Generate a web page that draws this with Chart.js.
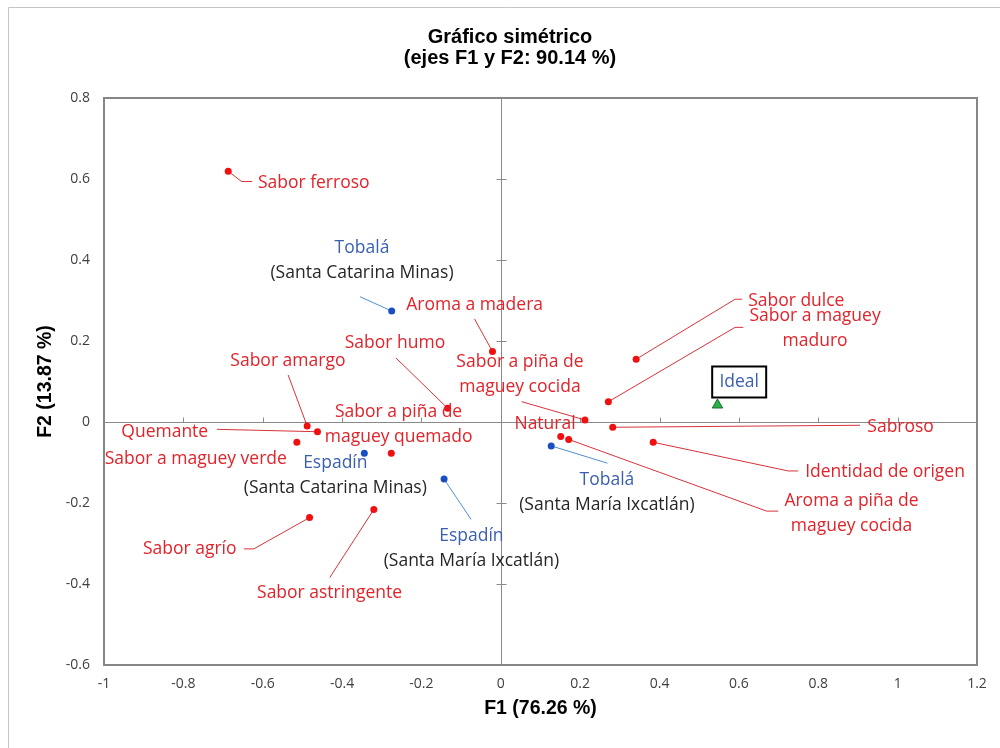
<!DOCTYPE html>
<html lang="es">
<head>
<meta charset="utf-8">
<title>Gráfico simétrico</title>
<script src="https://cdn.jsdelivr.net/npm/chart.js@4.4.1/dist/chart.umd.min.js"></script>
<style>
  html, body { margin: 0; padding: 0; background: #ffffff; }
  canvas { display: block; }
</style>
</head>
<body>
<canvas id="chart" width="1000" height="748"></canvas>
<script>
// Sensory attributes (F1, F2 coordinates)
const attrNames = [
  'Sabor ferroso',
  'Aroma a madera',
  'Sabor humo',
  'Sabor amargo',
  'Quemante',
  'Sabor a maguey verde',
  'Sabor a piña de\nmaguey quemado',
  'Sabor agrío',
  'Sabor astringente',
  'Sabor dulce',
  'Sabor a maguey\nmaduro',
  'Sabor a piña de\nmaguey cocida',
  'Natural',
  'Sabroso',
  'Identidad de origen',
  'Aroma a piña de\nmaguey cocida'
];
const attrF1 = [-0.687, -0.021, -0.134, -0.488, -0.462, -0.514, -0.276, -0.482, -0.320,
                 0.341,  0.271,  0.212,  0.151,  0.282,  0.384,  0.171];
const attrF2 = [ 0.619,  0.174,  0.034, -0.010, -0.024, -0.050, -0.077, -0.236, -0.216,
                 0.155,  0.050,  0.005, -0.036, -0.013, -0.050, -0.043];

// Mezcal samples
const mezcalNames = ['Tobalá', 'Espadín', 'Espadín', 'Tobalá'];
const mezcalOrigins = ['(Santa Catarina Minas)', '(Santa Catarina Minas)',
                       '(Santa María Ixcatlán)', '(Santa María Ixcatlán)'];
const mezcalF1 = [-0.275, -0.344, -0.143, 0.127];
const mezcalF2 = [ 0.274, -0.077, -0.141, -0.059];

// Ideal product
const idealName = 'Ideal';
const idealF1 = [0.546];
const idealF2 = [0.042];

// Axis ticks
const xTickValues = [-1, -0.8, -0.6, -0.4, -0.2, 0, 0.2, 0.4, 0.6, 0.8, 1, 1.2];
const xTickLabels = ['-1', '-0.8', '-0.6', '-0.4', '-0.2', '0', '0.2', '0.4', '0.6', '0.8', '1', '1.2'];
const yTickValues = [-0.6, -0.4, -0.2, 0, 0.2, 0.4, 0.6, 0.8];
const yTickLabels = ['-0.6', '-0.4', '-0.2', '0', '0.2', '0.4', '0.6', '0.8'];

const chartTitle = ['Gráfico simétrico', '(ejes F1 y F2: 90.14 %)'];
const xTitle = 'F1 (76.26 %)';
const yTitle = 'F2 (13.87 %)';

// Label placement: pixel offsets from each point, plus leader-line waypoints
const attrLabelLayout = [
  { dx: 29.7,  dy: 11.5,  align: 'left',   leader: [[13.4, 10.2], [24, 10.2]] },
  { dx: -86.3, dy: -46.7, align: 'left',   leader: [[-18, -32.7]] },
  { dx: -52.7, dy: -65.6, align: 'center', leader: [[-51.7, -50.3]] },
  { dx: -19.3, dy: -65,   align: 'center', leader: [[-19, -51]] },
  { dx: -109.3, dy: 0,    align: 'right',  leader: [[-100.6, -2.4]] },
  { dx: -10,   dy: 16.7,  align: 'right' },
  { dx: 7.3,   dy: -41,   align: 'center' },
  { dx: -73,   dy: 31.3,  align: 'right',  leader: [[-55.7, 31.3], [-65.7, 31.3]] },
  { dx: -44.3, dy: 83.4,  align: 'center', leader: [[-44, 68]] },
  { dx: 112,   dy: -58.6, align: 'left',   leader: [[99, -60], [106, -60]] },
  { dx: 206.7, dy: -85.7, align: 'center', leader: [[126.7, -74.4], [135, -74.4]] },
  { dx: -65,   dy: -58.3, align: 'center', leader: [[-63.3, -18.3]] },
  { dx: -15.7, dy: -12.4, align: 'center' },
  { dx: 254.6, dy: -0.6,  align: 'left',   leader: [[247.3, -2]] },
  { dx: 152,   dy: 29.4,  align: 'left',   leader: [[135, 28.7], [145, 28.7]] },
  { dx: 282.8, dy: 61.4,  align: 'center', leader: [[198, 71.7], [209.6, 71.7]] }
];
const mezcalLabelLayout = [
  { dx: -29.7, dy: -63, leader: [[-31.7, -14.3]] },
  { dx: -29,   dy: 9.4 },
  { dx: 27.3,  dy: 57,  leader: [[27, 40.3]] },
  { dx: 55.7,  dy: 34,  leader: [[56.3, 17.3]] }
];
const idealLabelLayout = { dx: 21.7, dy: -23, boxW: 54, boxH: 31 };

const LABEL_FONT = '17.5px "Open Sans"';
const LINE_GAP = 25;
const RED_TEXT = '#e2232a';
const RED_LINE = '#d8323a';
const BLUE_TEXT = '#3a5fb0';
const BLUE_LINE = '#4f8fd0';
const DARK_TEXT = '#262626';
const AXIS_GRAY = '#8a8a8a';

function drawPolyline(ctx, x0, y0, pts, color) {
  ctx.beginPath();
  ctx.moveTo(x0, y0);
  pts.forEach(p => ctx.lineTo(x0 + p[0], y0 + p[1]));
  ctx.strokeStyle = color;
  ctx.lineWidth = 1;
  ctx.stroke();
}

// Frame, plot box, centred axes with tick marks, labels and title
const framePlugin = {
  id: 'frameAndAxes',
  beforeDraw(chart) {
    const ctx = chart.ctx;
    ctx.save();
    ctx.strokeStyle = '#c4c4c4';
    ctx.lineWidth = 1;
    ctx.beginPath();
    ctx.moveTo(8.5, chart.height + 2);
    ctx.lineTo(8.5, 7.5);
    ctx.lineTo(chart.width + 2, 7.5);
    ctx.stroke();
    ctx.restore();
  },
  beforeDatasetsDraw(chart) {
    const { ctx, chartArea: a, scales: { x, y } } = chart;
    ctx.save();
    const x0 = Math.round(x.getPixelForValue(0)) + 0.5;
    const y0 = Math.round(y.getPixelForValue(0)) + 0.5;
    ctx.strokeStyle = AXIS_GRAY;
    ctx.lineWidth = 1;
    ctx.beginPath();
    ctx.moveTo(x0, a.top); ctx.lineTo(x0, a.bottom);
    ctx.moveTo(a.left, y0); ctx.lineTo(a.right, y0);
    xTickValues.forEach(v => {
      if (v === xTickValues[0] || v === xTickValues[xTickValues.length - 1] || v === 0) return;
      const px = Math.round(x.getPixelForValue(v)) + 0.5;
      ctx.moveTo(px, y0); ctx.lineTo(px, y0 - 5);
    });
    yTickValues.forEach(v => {
      if (v === yTickValues[0] || v === yTickValues[yTickValues.length - 1] || v === 0) return;
      const py = Math.round(y.getPixelForValue(v)) + 0.5;
      ctx.moveTo(x0 - 5, py); ctx.lineTo(x0 + 5, py);
    });
    ctx.stroke();
    ctx.strokeStyle = '#878787';
    ctx.lineWidth = 2;
    ctx.strokeRect(a.left, a.top, a.right - a.left, a.bottom - a.top);
    ctx.restore();

    // leader lines
    ctx.save();
    chart.getDatasetMeta(0).data.forEach((pt, i) => {
      const L = attrLabelLayout[i];
      if (L.leader) drawPolyline(ctx, pt.x, pt.y, L.leader, RED_LINE);
    });
    chart.getDatasetMeta(1).data.forEach((pt, i) => {
      const L = mezcalLabelLayout[i];
      if (L.leader) drawPolyline(ctx, pt.x, pt.y, L.leader, BLUE_LINE);
    });
    ctx.restore();
  },
  afterDatasetsDraw(chart) {
    const ctx = chart.ctx;
    ctx.save();
    ctx.font = LABEL_FONT;
    ctx.textBaseline = 'middle';
    chart.getDatasetMeta(0).data.forEach((pt, i) => {
      const L = attrLabelLayout[i];
      ctx.fillStyle = RED_TEXT;
      ctx.textAlign = L.align;
      attrNames[i].split('\n').forEach((line, k) => {
        ctx.fillText(line, pt.x + L.dx, pt.y + L.dy + k * LINE_GAP);
      });
    });
    ctx.textAlign = 'center';
    chart.getDatasetMeta(1).data.forEach((pt, i) => {
      const L = mezcalLabelLayout[i];
      ctx.fillStyle = BLUE_TEXT;
      ctx.fillText(mezcalNames[i], pt.x + L.dx, pt.y + L.dy);
      ctx.fillStyle = DARK_TEXT;
      ctx.fillText(mezcalOrigins[i], pt.x + L.dx, pt.y + L.dy + LINE_GAP);
    });
    const ip = chart.getDatasetMeta(2).data[0];
    const I = idealLabelLayout;
    const cx = ip.x + I.dx, cy = ip.y + I.dy;
    ctx.fillStyle = '#ffffff';
    ctx.fillRect(cx - I.boxW / 2, cy - I.boxH / 2, I.boxW, I.boxH);
    ctx.strokeStyle = '#000000';
    ctx.lineWidth = 2;
    ctx.strokeRect(cx - I.boxW / 2, cy - I.boxH / 2, I.boxW, I.boxH);
    ctx.fillStyle = BLUE_TEXT;
    ctx.fillText(idealName, cx, cy);
    ctx.restore();
  },
  afterDraw(chart) {
    const ctx = chart.ctx;
    ctx.save();
    ctx.font = 'bold 20px "Liberation Sans", Arial, sans-serif';
    ctx.fillStyle = '#000000';
    ctx.textAlign = 'center';
    ctx.textBaseline = 'middle';
    ctx.fillText(chartTitle[0], 510, 37);
    ctx.fillText(chartTitle[1], 510, 58);
    ctx.restore();
  }
};

const tickFont = { family: 'Open Sans', size: 14 };
const axisTitleFont = { family: 'Liberation Sans', size: 19.5, weight: 'bold' };

new Chart(document.getElementById('chart'), {
  type: 'scatter',
  data: {
    datasets: [
      {
        label: 'Atributos',
        data: attrF1.map((v, i) => ({ x: v, y: attrF2[i] })),
        backgroundColor: '#f01010',
        borderColor: '#f01010',
        pointRadius: 3.5,
        pointBorderWidth: 0
      },
      {
        label: 'Mezcales',
        data: mezcalF1.map((v, i) => ({ x: v, y: mezcalF2[i] })),
        backgroundColor: '#1a4fc4',
        borderColor: '#1a4fc4',
        pointRadius: 3.5,
        pointBorderWidth: 0
      },
      {
        label: 'Ideal',
        data: idealF1.map((v, i) => ({ x: v, y: idealF2[i] })),
        pointStyle: 'triangle',
        backgroundColor: '#27b34a',
        borderColor: '#1f6b2e',
        pointRadius: 6,
        pointBorderWidth: 1
      }
    ]
  },
  options: {
    responsive: false,
    animation: false,
    events: [],
    layout: { padding: { left: 10, right: 23, top: 98, bottom: 0 } },
    plugins: {
      legend: { display: false },
      tooltip: { enabled: false },
      title: { display: false }
    },
    scales: {
      x: {
        type: 'linear',
        min: -1,
        max: 1.2,
        afterBuildTicks: s => { s.ticks = xTickValues.map(v => ({ value: v })); },
        afterFit: s => { s.height = 83; },
        grid: { display: false, drawTicks: false },
        border: { display: false },
        ticks: {
          autoSkip: false,
          maxRotation: 0,
          padding: 11,
          font: tickFont,
          color: '#404040',
          callback: (v, i) => xTickLabels[i]
        },
        title: { display: true, text: xTitle, font: axisTitleFont, color: '#000000', padding: { top: 0, bottom: 28 } }
      },
      y: {
        type: 'linear',
        min: -0.6,
        max: 0.8,
        afterBuildTicks: s => { s.ticks = yTickValues.map(v => ({ value: v })); },
        afterFit: s => { s.width = 94; },
        grid: { display: false, drawTicks: false },
        border: { display: false },
        ticks: {
          autoSkip: false,
          padding: 14,
          font: tickFont,
          color: '#404040',
          callback: (v, i) => yTickLabels[i]
        },
        title: { display: true, text: yTitle, font: axisTitleFont, color: '#000000', padding: { top: 24, bottom: 0 } }
      }
    }
  },
  plugins: [framePlugin]
});
</script>
</body>
</html>
